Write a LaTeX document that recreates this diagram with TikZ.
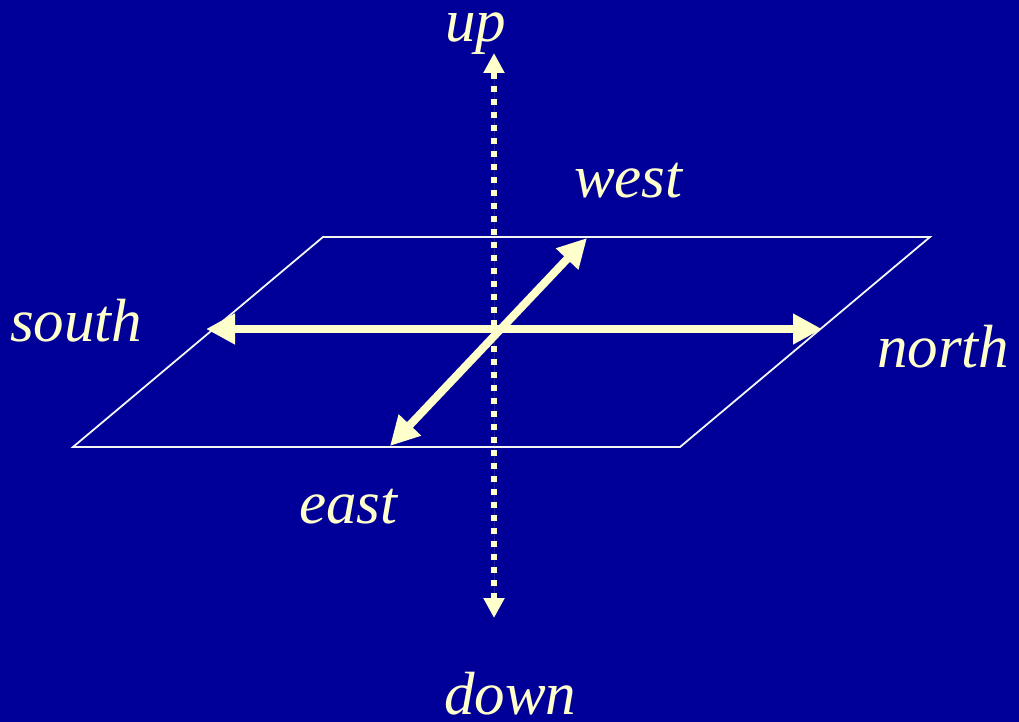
\documentclass[tikz,border=0pt]{standalone}
\usepackage{fontspec}
\setmainfont{Liberation Serif}
\usepackage{tikz}
\usetikzlibrary{arrows.meta, positioning}
\definecolor{colBack} {HTML}{000099}
\definecolor{colCream}{HTML}{FFFFCC}
\definecolor{colPlane}{HTML}{F4F4F0}
\tikzset{
  dirlabel/.style={
    inner sep=0pt, anchor=base west, text=colCream,
    font=\fontsize{61}{65}\selectfont\itshape
  },
  planeedge/.style={draw=colPlane, line width=1.8pt, line join=miter},
  axisarr/.style={
    {Triangle[length=29pt,width=29pt]}-{Triangle[length=29pt,width=29pt]},
    line width=8pt, draw=colCream, fill=colCream
  },
  vertarr/.style={
    {Triangle[length=20pt,width=20pt]}-{Triangle[length=20pt,width=20pt]},
    line width=6pt, draw=colCream, fill=colCream,
    dash pattern=on 6.5pt off 6.5pt
  }
}

\begin{document}
\begin{tikzpicture}[x=1pt, y=-1pt]
  %% ── Canvas ──────────────────────────────────────────────────────
  \useasboundingbox (0,0) rectangle (1019,722);
  \fill[colBack] (0,0) rectangle (1019,722);

  %% ── Plane corners ───────────────────────────────────────────────
  \coordinate (pNW) at (323,237);
  \coordinate (pNE) at (930,237);
  \coordinate (pSE) at (680,447);
  \coordinate (pSW) at (73,447);
  \draw[planeedge] (pNW) -- (pNE) -- (pSE) -- (pSW) -- cycle;

  %% ── Arrow ends ──────────────────────────────────────────────────
  \coordinate (tipUp)    at (494,53);
  \coordinate (tipDown)  at (494,618);
  \coordinate (tipSouth) at (206,329);
  \coordinate (tipNorth) at (822,329);
  \coordinate (tipEast)  at (390,446);
  \coordinate (tipWest)  at (587,238);

  %% ── Direction arrows ────────────────────────────────────────────
  \draw[vertarr] (tipDown) -- (tipUp);
  \draw[axisarr] (tipSouth) -- (tipNorth);
  \draw[axisarr] (tipEast) -- (tipWest);

  %% ── Labels ──────────────────────────────────────────────────────
  \node[dirlabel] (up)    at (445,42)  {up};
  \node[dirlabel] (west)  at (574,197) {west};
  \node[dirlabel] (south) at (10,341)  {south};
  \node[dirlabel] (north) at (877,367) {north};
  \node[dirlabel] (east)  at (299,523) {east};
  \node[dirlabel] (down)  at (444,714) {down};
\end{tikzpicture}
\end{document}
